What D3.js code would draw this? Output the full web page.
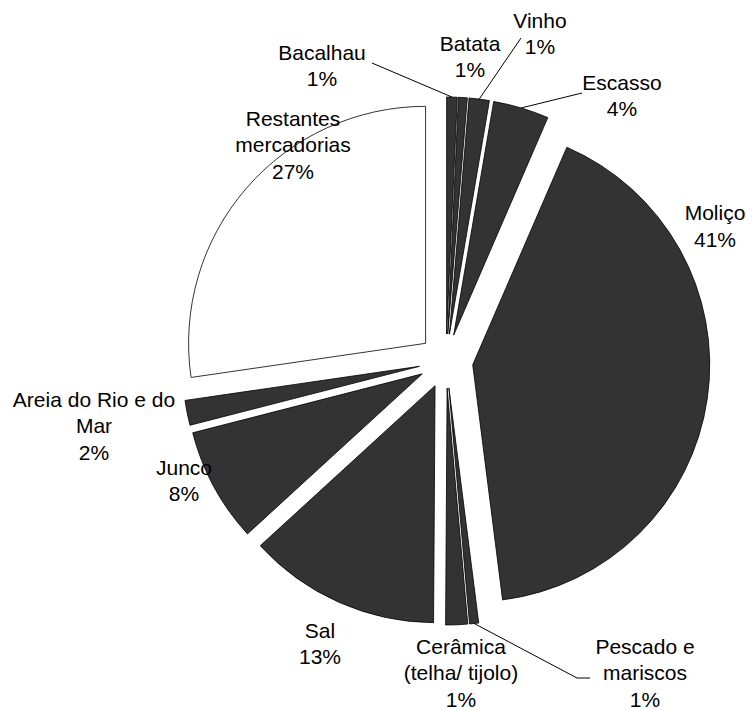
<!DOCTYPE html>
<html>
<head>
<meta charset="utf-8">
<script src="https://cdn.jsdelivr.net/npm/d3@7/dist/d3.min.js"></script>
<style>
  html, body { margin: 0; padding: 0; background: #ffffff; }
  svg { display: block; }
  text { font-family: "Liberation Sans", Arial, Helvetica, sans-serif; font-size: 21px; fill: #000; }
</style>
</head>
<body>
<svg id="chart" width="754" height="710"></svg>
<script>
// Cargas por mercadoria (% do total), clockwise from 12 o'clock
const categories = [
  "Bacalhau", "Batata", "Vinho", "Escasso", "Moliço",
  "Pescado e mariscos", "Cerâmica (telha/ tijolo)", "Sal", "Junco",
  "Areia do Rio e do Mar", "Restantes mercadorias"
];
const shares = [0.72, 0.6, 1.38, 3.8, 41.49, 0.62, 1.49, 13.1, 7.8, 1.7, 27.3];

// How each category name wraps in its label
const labelLines = [
  ["Bacalhau"], ["Batata"], ["Vinho"], ["Escasso"], ["Moliço"],
  ["Pescado e", "mariscos"], ["Cerâmica", "(telha/ tijolo)"], ["Sal"], ["Junco"],
  ["Areia do Rio e do", "Mar"], ["Restantes", "mercadorias"]
];

// Label placement: centre x, first baseline y, optional leader path end points
const labelLayout = [
  { x: 322, y: 59.5, leader: [[372, 63]] },
  { x: 470, y: 50.5 },
  { x: 540, y: 27.5, leader: [[521, 38]] },
  { x: 622, y: 89.5, leader: [[582, 93]] },
  { x: 715, y: 220 },
  { x: 645, y: 653.5, leader: [[577, 678], [590, 678]] },
  { x: 461, y: 653.5 },
  { x: 320, y: 637.5 },
  { x: 184, y: 474.5 },
  { x: 94, y: 406.7 },
  { x: 293, y: 125.7 }
];

const cx = 446, cy = 361;      // pie centre
const radius = 237;
const explode = 27;            // outward offset of every slice
const lineGap = 26.5;
const darkFill = "#333333";

const svg = d3.select("#chart");
const total = d3.sum(shares);

const pie = d3.pie().sort(null).value(d => d).startAngle(0).endAngle(2 * Math.PI);
const arc = d3.arc().innerRadius(0).outerRadius(radius);
const arcs = pie(shares);

const mid = d => (d.startAngle + d.endAngle) / 2;
const offset = (d, r) => [Math.sin(mid(d)) * r, -Math.cos(mid(d)) * r];

const g = svg.append("g").attr("transform", `translate(${cx},${cy})`);

g.selectAll("path.slice")
  .data(arcs)
  .join("path")
  .attr("class", "slice")
  .attr("transform", d => { const [dx, dy] = offset(d, explode); return `translate(${dx},${dy})`; })
  .attr("d", arc)
  .attr("fill", (d, i) => i === shares.length - 1 ? "#ffffff" : darkFill)
  .attr("stroke", "#000")
  .attr("stroke-width", 0.8)
  .attr("stroke-linejoin", "round");

// Leader lines from the outer edge of the slice to its label
arcs.forEach((d, i) => {
  const lay = labelLayout[i];
  if (!lay.leader) return;
  const [sx, sy] = offset(d, explode + radius);
  const pts = [[cx + sx, cy + sy], ...lay.leader];
  svg.append("path")
    .attr("d", d3.line()(pts))
    .attr("fill", "none")
    .attr("stroke", "#000")
    .attr("stroke-width", 1);
});

// Category and percentage labels
arcs.forEach((d, i) => {
  const lay = labelLayout[i];
  const lines = labelLines[i].concat([Math.round(shares[i] / total * 100) + "%"]);
  const t = svg.append("text")
    .attr("text-anchor", "middle")
    .attr("x", lay.x)
    .attr("y", lay.y);
  lines.forEach((s, k) => {
    t.append("tspan")
      .attr("x", lay.x)
      .attr("y", lay.y + k * lineGap)
      .text(s);
  });
});
</script>
</body>
</html>
